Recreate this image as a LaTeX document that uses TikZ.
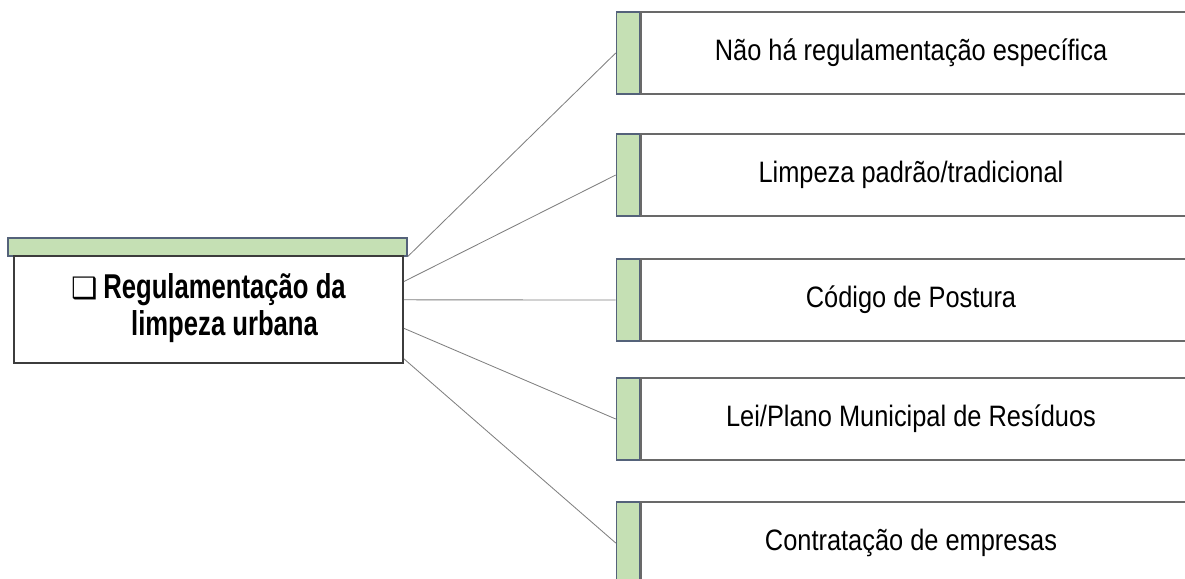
\documentclass[tikz,border=0pt]{standalone}
\usepackage{fontspec}
\setmainfont{Liberation Sans}
\newfontfamily\itemfont{Liberation Sans}[FakeStretch=0.86]
\newfontfamily\headfont{Liberation Sans}[FakeStretch=0.745]
\newfontfamily\boxglyph{DejaVu Sans}
\usetikzlibrary{calc}
\definecolor{barfill}{RGB}{197,224,180}
\definecolor{barline}{RGB}{84,98,122}
\definecolor{boxline}{RGB}{105,105,105}
\definecolor{mainline}{RGB}{60,60,60}
\definecolor{linkline}{RGB}{128,128,128}

\begin{document}
\begin{tikzpicture}[
    greenbar/.style={draw=barline, fill=barfill, line width=0.9pt, inner sep=0pt},
    whitebox/.style={draw=boxline, fill=white, line width=1.1pt, inner sep=0pt},
    itemtext/.style={font=\itemfont\fontsize{21}{25}\selectfont},
    link/.style={draw=linkline, line width=0.6pt}
  ]
  \useasboundingbox (0,0) rectangle (29.625,14.45);
  \clip (0,0) rectangle (29.625,14.45);
  % bloco da esquerda
  \node[greenbar, minimum width=9.975cm, minimum height=0.45cm] (bar) at (5.1875,8.275) {};
  \node[whitebox, draw=mainline, line width=1.3pt, minimum width=9.725cm, minimum height=2.675cm,
        font=\headfont\bfseries\fontsize{24.5}{26.3}\selectfont] (main) at (5.2125,6.7125)
        {{\boxglyph\fontsize{21}{21}\selectfont ❑}\hspace{4pt}\begin{tabular}[t]{@{}c@{}}Regulamentação da\\limpeza urbana\end{tabular}};
  %
  \node[whitebox, minimum width=15cm, minimum height=2.05cm, anchor=west] (b1) at (16.0,13.125) {};
  \node[whitebox, minimum width=15cm, minimum height=2.05cm, anchor=west] (b2) at (16.0,10.075) {};
  \node[whitebox, minimum width=15cm, minimum height=2.05cm, anchor=west] (b3) at (16.0,6.95) {};
  \node[whitebox, minimum width=15cm, minimum height=2.05cm, anchor=west] (b4) at (16.0,3.975) {};
  \node[whitebox, minimum width=15cm, minimum height=2.05cm, anchor=west] (b5) at (16.0,0.875) {};
  %
  \node[greenbar, minimum width=0.575cm, minimum height=2.05cm, anchor=east] (s1) at (b1.west) {};
  \node[greenbar, minimum width=0.575cm, minimum height=2.05cm, anchor=east] (s2) at (b2.west) {};
  \node[greenbar, minimum width=0.575cm, minimum height=2.05cm, anchor=east] (s3) at (b3.west) {};
  \node[greenbar, minimum width=0.575cm, minimum height=2.05cm, anchor=east] (s4) at (b4.west) {};
  \node[greenbar, minimum width=0.575cm, minimum height=2.05cm, anchor=east] (s5) at (b5.west) {};
  %
  \node[itemtext] (t1) at ($(b1.west)+(6.775,0)$) {Não há regulamentação específica};
  \node[itemtext] (t2) at ($(b2.west)+(6.775,0)$) {Limpeza padrão/tradicional};
  \node[itemtext] (t3) at ($(b3.west)+(6.775,0)$) {Código de Postura};
  \node[itemtext] (t4) at ($(b4.west)+(6.775,0)$) {Lei/Plano Municipal de Resíduos};
  \node[itemtext] (t5) at ($(b5.west)+(6.775,0)$) {Contratação de empresas};
  % ligações
  \draw[link] (bar.south east) -- (s1.west);
  \draw[link] ($(main.north east)!0.243!(main.south east)$) -- (s2.west);
  \draw[link] ($(main.north east)!0.411!(main.south east)$) -- (s3.west);
  \draw[link] ($(main.north east)!0.673!(main.south east)$) -- (s4.west);
  \draw[link] ($(main.north east)!0.953!(main.south east)$) -- (s5.west);
\end{tikzpicture}
\end{document}
